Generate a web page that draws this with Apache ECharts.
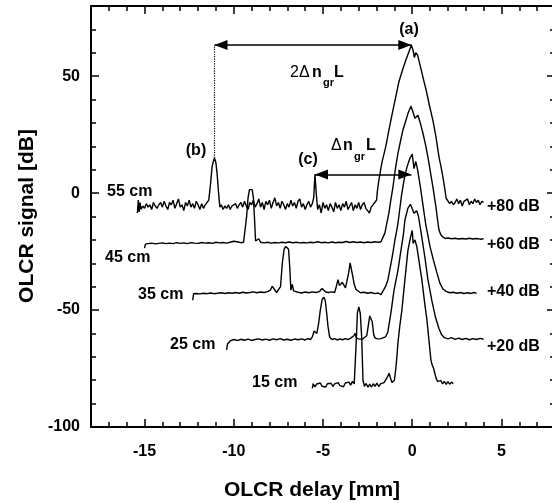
<!DOCTYPE html>
<html>
<head>
<meta charset="utf-8">
<script src="https://cdn.jsdelivr.net/npm/echarts@6/dist/echarts.min.js"></script>
<style>
  html, body { margin: 0; padding: 0; background: #fff; }
  #chart { width: 552px; height: 503px; }
</style>
</head>
<body>
<div id="chart"></div>
<script>
// OLCR reflectograms of five fibre lengths, each trace lifted by its own offset
const fiberLengths = ['55 cm', '45 cm', '35 cm', '25 cm', '15 cm'];
const offsets = [80, 60, 40, 20, 0];
const offsetLabels = ['+80 dB', '+60 dB', '+40 dB', '+20 dB'];

// [delay mm, signal dB] before offset
const trace55 = [
  [-15.4,-88.5],[-15.35,-83],[-15.3,-88],[-15.25,-84],[-15.2,-87],[-15.1,-85.5],[-15.0,-86.5],[-14.9,-84.5],[-14.8,-86],[-14.7,-85],
  [-14.6,-87],[-14.5,-84],[-14.4,-85.5],[-14.3,-86.5],[-14.2,-85],[-14.1,-84],[-14.0,-86],[-13.9,-83.5],[-13.8,-85.5],[-13.7,-87],
  [-13.6,-84],[-13.5,-85],[-13.4,-83],[-13.3,-86.5],[-13.2,-84.5],[-13.1,-82.5],[-13.0,-86],[-12.9,-85],[-12.8,-87.5],[-12.7,-84],
  [-12.6,-85.5],[-12.5,-83],[-12.4,-86],[-12.3,-84.5],[-12.2,-86.5],[-12.1,-83.5],[-12.0,-85],[-11.9,-87],[-11.8,-84.5],[-11.7,-86.5],
  [-11.6,-85],[-11.5,-84],[-11.4,-83],[-11.3,-76],[-11.22,-69],[-11.15,-66.5],[-11.08,-65],[-11.0,-67],[-10.93,-72],[-10.85,-80],
  [-10.78,-86],[-10.7,-85],[-10.6,-87],[-10.5,-85.5],[-10.4,-86.5],[-10.3,-85],[-10.2,-87],[-10.1,-85.5],[-10.0,-86],[-9.9,-84.5],
  [-9.8,-86.5],[-9.7,-85],[-9.6,-84],[-9.5,-86],[-9.4,-83.5],[-9.3,-85.5],[-9.2,-87],[-9.1,-84],[-9.0,-85],[-8.9,-83],
  [-8.8,-86],[-8.7,-84.5],[-8.6,-82.5],[-8.5,-86],[-8.4,-84],[-8.3,-87],[-8.2,-83.5],[-8.1,-85],[-8.0,-83],[-7.9,-86.5],
  [-7.8,-84],[-7.7,-82],[-7.6,-85.5],[-7.5,-84],[-7.4,-86.5],[-7.3,-83.5],[-7.2,-85],[-7.1,-87],[-7.0,-84.5],[-6.9,-86],
  [-6.8,-83],[-6.7,-85.5],[-6.6,-84],[-6.5,-86.5],[-6.4,-83.5],[-6.3,-82.5],[-6.2,-86],[-6.1,-84.5],[-6.0,-87],[-5.9,-85],
  [-5.8,-83.5],[-5.7,-86],[-5.6,-84.5],[-5.52,-82],[-5.45,-72],[-5.38,-80],[-5.3,-87],[-5.2,-85],[-5.1,-88.5],[-5.0,-84],
  [-4.9,-86.5],[-4.8,-85],[-4.7,-87.5],[-4.6,-84.5],[-4.5,-86],[-4.4,-88],[-4.3,-84],[-4.2,-86.5],[-4.1,-85],[-4.0,-87.5],
  [-3.9,-84.5],[-3.8,-86],[-3.7,-83.5],[-3.6,-87],[-3.5,-85.5],[-3.4,-84],[-3.3,-87.5],[-3.2,-85],[-3.1,-86.5],[-3.0,-84],
  [-2.9,-87],[-2.8,-85],[-2.7,-84],[-2.6,-86.5],[-2.5,-87.5],[-2.4,-88.5],[-2.3,-86],[-2.2,-85],[-2.1,-84],[-2.0,-83],
  [-1.95,-79],[-1.87,-74.5],[-1.7,-67],[-1.48,-60],[-1.28,-52],[-1.08,-44.5],[-0.9,-38],[-0.75,-32.5],[-0.55,-27.5],[-0.35,-23],
  [-0.18,-19.5],[-0.05,-16.7],[0.05,-19],[0.12,-22],[0.2,-20],[0.3,-21],[0.35,-21.5],[0.5,-27.2],[0.65,-32],[0.78,-36],
  [0.95,-42],[1.16,-49],[1.33,-56],[1.5,-64.6],[1.62,-69],[1.72,-73.2],[1.82,-78],[1.9,-82.2],[2.0,-83],[2.1,-84.5],
  [2.2,-83.5],[2.3,-85],[2.4,-84],[2.5,-82.5],[2.6,-84.5],[2.7,-83],[2.8,-85.5],[2.9,-83.5],[3.0,-84],[3.1,-82.5],
  [3.2,-85],[3.3,-83.5],[3.4,-84.5],[3.5,-82.5],[3.6,-84],[3.7,-83],[3.8,-85],[3.9,-83.5],[4.0,-84]
];
const trace45 = [
  [-15.0,-83.5],[-14.95,-81.8],[-14.8,-81.6],[-14.6,-81.4],[-14.4,-81.7],[-14.2,-81.5],[-14.0,-81.3],[-13.8,-81.6],[-13.6,-81.4],[-13.4,-81.6],
  [-13.2,-81.2],[-13.0,-81.5],[-12.8,-81.3],[-12.6,-81.6],[-12.4,-81.2],[-12.2,-81.4],[-12.0,-81.5],[-11.8,-81.1],[-11.6,-81.4],[-11.4,-81.2],
  [-11.2,-81.5],[-11.0,-81.0],[-10.8,-81.3],[-10.6,-81.1],[-10.4,-81.4],[-10.2,-81.0],[-10.0,-80.6],[-9.9,-80.0],[-9.8,-80.8],[-9.6,-81.2],
  [-9.45,-81.0],[-9.35,-80.5],[-9.28,-70],[-9.2,-62],[-9.12,-58.5],[-9.05,-57.8],[-8.97,-58.5],[-8.9,-62],[-8.83,-72],[-8.78,-80.5],
  [-8.7,-81.2],[-8.6,-79.5],[-8.5,-81],[-8.3,-81.3],[-8.1,-81.0],[-7.9,-81.4],[-7.7,-81.1],[-7.5,-81.3],[-7.3,-81.0],[-7.1,-81.2],
  [-6.9,-80.9],[-6.7,-81.2],[-6.5,-81.0],[-6.3,-81.3],[-6.1,-81.1],[-5.9,-81.3],[-5.7,-81.0],[-5.5,-81.2],[-5.3,-80.8],[-5.1,-81.2],
  [-4.9,-81.0],[-4.7,-81.3],[-4.5,-80.9],[-4.3,-81.2],[-4.1,-81.0],[-3.9,-81.1],[-3.7,-80.7],[-3.5,-81.1],[-3.3,-80.8],[-3.1,-81.1],
  [-2.9,-80.9],[-2.7,-81.2],[-2.5,-80.9],[-2.3,-81.1],[-2.1,-80.8],[-1.9,-81.0],[-1.75,-80.8],[-1.65,-80],[-1.53,-77],[-1.4,-72],
  [-1.31,-68.6],[-1.2,-63],[-1.08,-57.4],[-0.95,-50],[-0.8,-43],[-0.65,-37.5],[-0.52,-33],[-0.38,-29.5],[-0.24,-26],[-0.07,-22.8],
  [0.05,-25.5],[0.15,-28],[0.25,-27.2],[0.32,-26.7],[0.45,-30],[0.6,-34.4],[0.75,-39.5],[0.88,-44.6],[1.02,-51],[1.16,-57.4],
  [1.33,-66],[1.42,-71.5],[1.5,-75.8],[1.6,-77.8],[1.72,-78.8],[1.85,-79.4],[2.0,-79.2],[2.2,-79.5],[2.4,-79.3],[2.6,-79.6],
  [2.8,-79.4],[3.0,-79.6],[3.2,-79.3],[3.4,-79.6],[3.6,-79.4],[3.8,-79.7],[4.0,-79.5]
];
const trace35 = [
  [-12.3,-85.8],[-12.25,-83.0],[-12.1,-82.9],[-11.9,-83.1],[-11.7,-82.8],[-11.5,-83.0],[-11.3,-82.7],[-11.1,-83.0],[-10.9,-82.8],[-10.7,-82.6],
  [-10.5,-82.9],[-10.3,-82.6],[-10.1,-82.8],[-9.9,-82.5],[-9.7,-82.8],[-9.5,-82.4],[-9.3,-82.7],[-9.1,-82.5],[-8.9,-82.2],[-8.7,-82.6],
  [-8.5,-82.3],[-8.3,-82.5],[-8.1,-82.1],[-7.95,-81.5],[-7.85,-79.8],[-7.75,-80.5],[-7.6,-82.5],[-7.5,-82.8],[-7.38,-80],[-7.28,-70],
  [-7.18,-64],[-7.08,-62.8],[-7.0,-62.6],[-6.93,-64],[-6.86,-72],[-6.8,-81.5],[-6.72,-79],[-6.65,-81.8],[-6.55,-82.6],[-6.4,-82.4],
  [-6.2,-82.7],[-6.0,-82.3],[-5.8,-82.6],[-5.6,-82.2],[-5.4,-82.5],[-5.2,-82.1],[-5.05,-80.8],[-4.95,-80.5],[-4.85,-82.3],[-4.7,-82.5],
  [-4.5,-82.2],[-4.35,-82.5],[-4.25,-79.8],[-4.16,-77],[-4.08,-79.5],[-4.0,-80],[-3.92,-78.2],[-3.83,-78],[-3.74,-80.5],[-3.66,-80],
  [-3.56,-74],[-3.48,-69.8],[-3.4,-70.2],[-3.32,-76],[-3.25,-79],[-3.15,-81.2],[-3.05,-81.6],[-2.9,-82.6],[-2.7,-82.4],[-2.5,-82.8],
  [-2.3,-82.5],[-2.1,-83.0],[-1.9,-82.7],[-1.75,-83.4],[-1.65,-82.8],[-1.5,-80],[-1.36,-77],[-1.25,-72.5],[-1.14,-68],[-1.05,-64],
  [-0.97,-60],[-0.88,-56.5],[-0.8,-53],[-0.7,-47],[-0.6,-41],[-0.45,-34],[-0.3,-29],[-0.15,-25.5],[0.0,-23.3],[0.1,-29.5],
  [0.2,-26.5],[0.3,-30],[0.45,-37],[0.6,-45],[0.75,-53],[0.9,-59],[1.0,-63],[1.2,-69],[1.38,-74],[1.55,-78.5],
  [1.72,-81],[1.9,-82],[2.1,-82.6],[2.3,-82.4],[2.5,-82.8],[2.7,-82.5],[2.9,-82.9],[3.1,-82.6],[3.3,-82.9],[3.45,-82.5],
  [3.6,-82.8]
];
const trace25 = [
  [-10.4,-87],[-10.35,-84.5],[-10.2,-83.2],[-10.0,-82.6],[-9.8,-83.0],[-9.6,-82.5],[-9.4,-82.9],[-9.2,-82.4],[-9.0,-83.0],[-8.8,-82.6],
  [-8.6,-82.3],[-8.4,-82.8],[-8.2,-82.4],[-8.0,-82.9],[-7.8,-82.3],[-7.6,-82.7],[-7.4,-82.2],[-7.2,-82.8],[-7.0,-82.5],[-6.8,-82.9],
  [-6.6,-82.4],[-6.4,-82.7],[-6.2,-82.3],[-6.0,-82.8],[-5.85,-82.2],[-5.7,-82.6],[-5.6,-81.5],[-5.5,-79],[-5.42,-78.6],[-5.35,-80],
  [-5.25,-76],[-5.15,-70],[-5.05,-65.5],[-4.95,-64.5],[-4.87,-66],[-4.8,-71],[-4.72,-77],[-4.63,-81.5],[-4.5,-82.6],[-4.35,-82.2],
  [-4.2,-82.8],[-4.05,-82.3],[-3.9,-82.7],[-3.75,-82.2],[-3.6,-82.6],[-3.45,-82.0],[-3.35,-82.5],[-3.27,-81],[-3.2,-80],[-3.12,-82],
  [-3.0,-82.3],[-2.9,-81.5],[-2.8,-82.5],[-2.7,-82.0],[-2.55,-81],[-2.45,-76],[-2.38,-72.5],[-2.3,-72],[-2.24,-75],[-2.16,-80.5],
  [-2.08,-82],[-1.95,-82.3],[-1.85,-82.8],[-1.75,-82.2],[-1.65,-82.8],[-1.5,-81.5],[-1.37,-79.5],[-1.19,-71],[-1.02,-61.5],[-0.8,-53],
  [-0.63,-44.4],[-0.5,-38],[-0.41,-31.5],[-0.24,-26.4],[-0.1,-24.8],[0.0,-24.3],[0.1,-28.6],[0.18,-28.5],[0.25,-27.5],[0.35,-30],
  [0.5,-37],[0.7,-47],[0.88,-57],[1.1,-66],[1.3,-73],[1.5,-78],[1.65,-80.6],[1.8,-81.8],[2.0,-82.3],[2.2,-81.8],
  [2.4,-82.5],[2.6,-82.0],[2.8,-82.6],[3.0,-82.1],[3.2,-82.7],[3.4,-82.2],[3.6,-82.6],[3.8,-82.1],[4.0,-82.5]
];
const trace15 = [
  [-5.6,-83.5],[-5.55,-81.5],[-5.45,-82.8],[-5.35,-81.6],[-5.25,-82.4],[-5.15,-81.2],[-5.05,-82.6],[-4.95,-81.8],[-4.85,-82.9],[-4.75,-81.5],
  [-4.65,-82.2],[-4.55,-81.3],[-4.45,-82.7],[-4.35,-81.6],[-4.25,-82.4],[-4.15,-81.0],[-4.05,-82.3],[-3.95,-81.5],[-3.85,-82.8],[-3.75,-81.2],
  [-3.65,-82.0],[-3.55,-80.8],[-3.45,-82.1],[-3.35,-80.5],[-3.25,-81.6],[-3.18,-81.8],[-3.13,-62],[-3.07,-51],[-2.99,-48.7],[-2.91,-51.5],
  [-2.83,-62],[-2.76,-80],[-2.68,-82.6],[-2.58,-81.4],[-2.48,-83],[-2.38,-81.7],[-2.28,-82.9],[-2.18,-81.5],[-2.08,-82.6],[-1.98,-81.2],
  [-1.88,-82.7],[-1.78,-81.6],[-1.68,-82.4],[-1.58,-81.0],[-1.48,-80.2],[-1.38,-78.5],[-1.3,-77],[-1.22,-79],[-1.14,-81],[-1.07,-81.8],
  [-1.0,-80],[-0.92,-75],[-0.86,-70],[-0.8,-64],[-0.7,-57],[-0.58,-50],[-0.41,-37],[-0.24,-24.4],[-0.1,-19],[0.0,-16],
  [0.05,-21.5],[0.15,-20],[0.26,-23],[0.4,-30],[0.54,-37],[0.68,-46],[0.82,-54],[0.9,-60],[0.99,-67],[1.05,-71.5],
  [1.12,-73.5],[1.2,-75],[1.33,-79],[1.42,-80.5],[1.5,-81],[1.6,-80.2],[1.7,-81.6],[1.8,-80.5],[1.9,-81.8],[2.0,-80.6],
  [2.1,-81.7],[2.2,-80.8],[2.3,-81.5]
];
const traces = [trace55, trace45, trace35, trace25, trace15];

// axis ranges and labelled ticks
const delayRange = [-18, 8];
const signalRange = [-100, 80];
const delayLabels = [-15, -10, -5, 0, 5];
const signalLabels = [-100, -50, 0, 50];

const FONT = '"Liberation Sans", Arial, Helvetica, sans-serif';
const BLACK = '#000';

const shifted = traces.map((t, i) => t.map(([x, y]) => [x, y + offsets[i]]));

// peak positions on the top trace used by the annotation arrows
function peakIn(data, lo, hi) {
  let best = null;
  data.forEach(p => { if (p[0] >= lo && p[0] <= hi && (!best || p[1] > best[1])) best = p; });
  return best;
}
const peakA = peakIn(shifted[0], -1, 1);
const peakB = peakIn(shifted[0], -12, -10);
const peakC = peakIn(shifted[0], -6, -5);

const chart = echarts.init(document.getElementById('chart'), null, { renderer: 'canvas' });

const tickLine = { color: BLACK, width: 1.5 };
const noSplit = { show: false };

function delayAxis(position, major, labelled) {
  return {
    type: 'value', position, min: delayRange[0], max: delayRange[1],
    interval: major ? undefined : 1,
    axisLine: { show: !major, onZero: false, lineStyle: { color: BLACK, width: 2 } },
    axisTick: major
      ? { show: true, inside: true, length: 8, customValues: delayLabels, lineStyle: tickLine }
      : { show: true, inside: true, length: 5, lineStyle: tickLine },
    axisLabel: labelled
      ? { show: true, customValues: delayLabels, margin: 17, color: BLACK, fontSize: 16, fontWeight: 'bold', fontFamily: FONT }
      : { show: false },
    splitLine: noSplit
  };
}
function signalAxis(position, major, labelled) {
  return {
    type: 'value', position, min: signalRange[0], max: signalRange[1],
    interval: major ? undefined : 10,
    axisLine: { show: !major, onZero: false, lineStyle: { color: BLACK, width: 2 } },
    axisTick: major
      ? { show: true, inside: true, length: 8, customValues: signalLabels, lineStyle: tickLine }
      : { show: true, inside: true, length: 5, lineStyle: tickLine },
    axisLabel: labelled
      ? { show: true, customValues: signalLabels, margin: 11, color: BLACK, fontSize: 16, fontWeight: 'bold', fontFamily: FONT }
      : { show: false },
    splitLine: noSplit
  };
}

const series = shifted.map((data, i) => ({
  name: fiberLengths[i],
  type: 'line',
  data,
  xAxisIndex: 0,
  yAxisIndex: 0,
  symbol: 'none',
  showSymbol: false,
  lineStyle: { color: BLACK, width: 1.4 },
  animation: false,
  z: 3
}));

// double-headed arrows; the offset pulls each head back so its tip sits on the end point
series[0].markLine = {
  silent: true,
  animation: false,
  label: { show: false },
  lineStyle: { color: BLACK, width: 1.5, type: 'solid' },
  symbol: ['triangle', 'triangle'],
  symbolSize: [10, 13],
  symbolOffset: [[0, 6.5], [0, 6.5]],
  data: [
    [{ coord: [peakB[0], peakA[1]] }, { coord: [peakA[0], peakA[1]] }],
    [{ coord: [peakC[0], peakC[1]] }, { coord: [peakA[0], peakC[1]] }],
    [{ coord: [peakB[0], peakB[1]], symbol: 'none', lineStyle: { type: 'dotted', width: 1.2 } },
     { coord: [peakB[0], peakA[1]], symbol: 'none' }]
  ]
};

const bold = size => `bold ${size}px ${FONT}`;
const plain = size => `${size}px ${FONT}`;
function txt(text, x, y, font, align) {
  return { type: 'text', x, y, silent: true, z: 10,
    style: { text, font, fill: BLACK, textAlign: align || 'left', textVerticalAlign: 'middle' } };
}

const labelPos = [[107, 192], [105, 258], [138, 295], [170, 345], [252, 383]];
const offsetPos = [207, 245, 292, 347];

const graphic = [
  // axis titles
  txt('OLCR delay [mm]', 312, 490, bold(21), 'center'),
  { type: 'text', x: 27, y: 216, rotation: Math.PI / 2, silent: true,
    style: { text: 'OLCR signal [dB]', font: bold(21), fill: BLACK, textAlign: 'center', textVerticalAlign: 'middle' } },
  // peak markers
  txt('(a)', 409, 30, bold(16), 'center'),
  txt('(b)', 196, 151, bold(16), 'center'),
  txt('(c)', 308, 160, bold(16), 'center'),
  // 2·Δn_gr·L
  txt('2Δ', 290, 73, plain(16)),
  txt('n', 312, 73, bold(16)),
  txt('gr', 323, 83, bold(11)),
  txt('L', 334, 73, bold(16)),
  // Δn_gr·L
  txt('Δ', 331, 146, plain(16)),
  txt('n', 343, 146, bold(16)),
  txt('gr', 354, 157, bold(11)),
  txt('L', 366, 146, bold(16))
];
fiberLengths.forEach((s, i) => graphic.push(txt(s, labelPos[i][0], labelPos[i][1], bold(16))));
offsetLabels.forEach((s, i) => graphic.push(txt(s, 487, offsetPos[i], bold(16))));

chart.setOption({
  animation: false,
  backgroundColor: '#fff',
  grid: { left: 91, top: 6, width: 464, height: 421, containLabel: false, outerBoundsMode: 'none' },
  xAxis: [
    delayAxis('bottom', false, true),
    delayAxis('bottom', true, false),
    delayAxis('top', false, false),
    delayAxis('top', true, false)
  ],
  yAxis: [
    signalAxis('left', false, true),
    signalAxis('left', true, false),
    signalAxis('right', false, false),
    signalAxis('right', true, false)
  ],
  series,
  graphic
});
</script>
</body>
</html>
